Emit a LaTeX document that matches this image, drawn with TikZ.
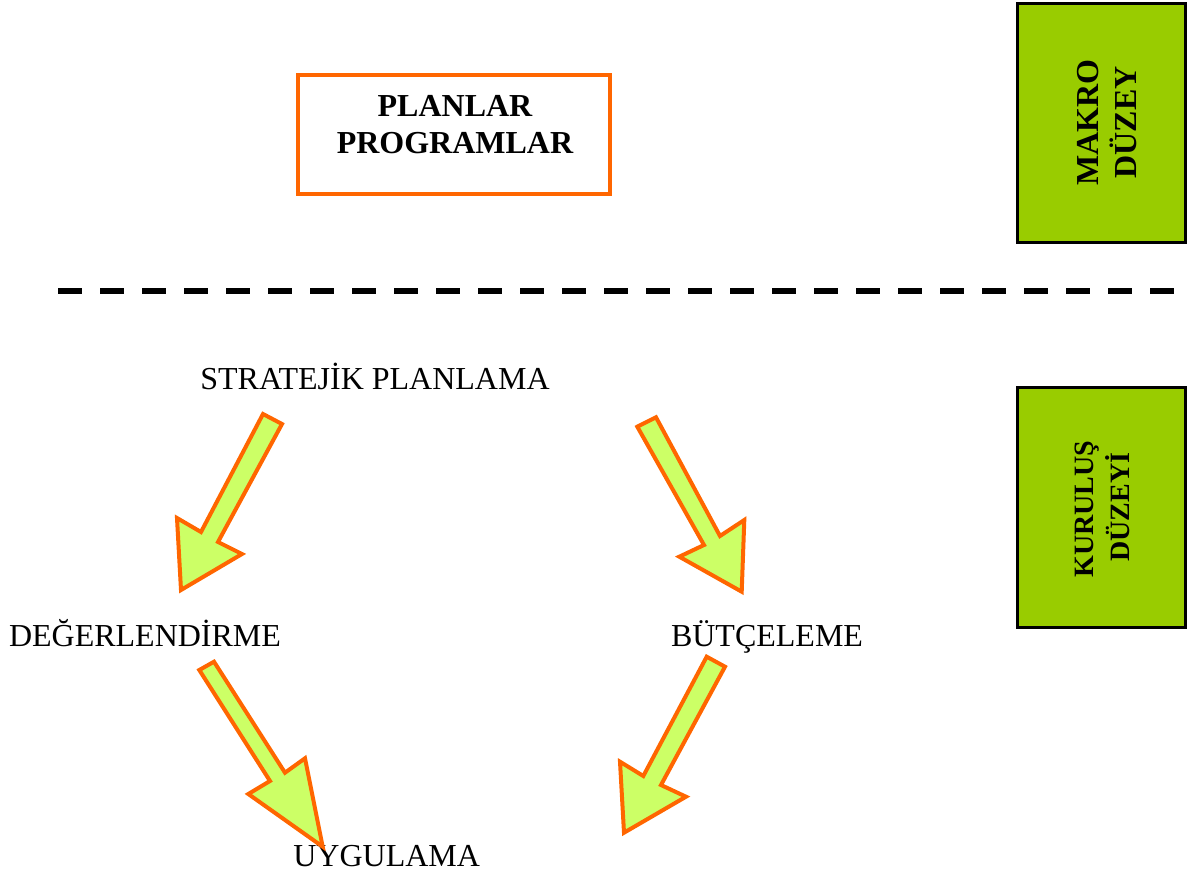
\documentclass[tikz,border=0pt]{standalone}
\usepackage{fontspec}
\setmainfont{Liberation Serif}
\definecolor{borange}{HTML}{FF6600}
\definecolor{afill}{HTML}{CCFF66}
\definecolor{gbox}{HTML}{99CC00}
\begin{document}
\begin{tikzpicture}[x=1pt,y=-1pt,
  lbl/.style={inner sep=0pt,anchor=base,font=\fontsize{32}{37}\selectfont},
  blbl/.style={inner sep=0pt,anchor=base,font=\fontsize{32}{37}\selectfont\bfseries},
  slbl/.style={inner sep=0pt,anchor=base,font=\fontsize{28}{33}\selectfont\bfseries},
  blockarrow/.style={draw=borange,line width=4pt,fill=afill,line join=miter},
  levelbox/.style={draw=black,line width=3pt,fill=gbox},
  planbox/.style={draw=borange,line width=3.5pt}]
\useasboundingbox (0,0) rectangle (1187,876);
% top box
\draw[planbox] (298,75) rectangle (610,194);
\node[blbl] (planlar) at (455,116) {PLANLAR};
\node[blbl] (programlar) at (455,153.3) {PROGRAMLAR};
% level boxes
\draw[levelbox] (1017,3) rectangle (1185,242);
\node[blbl,rotate=90] (makro) at (1098,122.5) {MAKRO};
\node[blbl,rotate=90] (duzey) at (1136,122.5) {DÜZEY};
\draw[levelbox] (1017,387) rectangle (1185,627);
\node[slbl,rotate=90] (kurulus) at (1093,509) {KURULUŞ};
\node[slbl,rotate=90] (duzeyi) at (1129,507) {DÜZEYİ};
% dashed separator
\coordinate (dl) at (58,291);
\coordinate (dr) at (1174,291);
\draw[line width=6pt,dash pattern=on 24pt off 18pt] (dl) -- (dr);
% labels
\node[lbl] (strat) at (375,389) {STRATEJİK PLANLAMA};
\node[lbl] (deger) at (145,646.7) {DEĞERLENDİRME};
\node[lbl] (butce) at (767,646.7) {BÜTÇELEME};
\node[lbl] (uygul) at (386.7,866.7) {UYGULAMA};
% block arrows
\draw[blockarrow] (263,414) -- (282,424) -- (218,542) -- (242,554) -- (181,590) -- (177,518) -- (201,532) -- cycle;
\draw[blockarrow] (656,417.3) -- (637.3,426.7) -- (704,545) -- (679.3,556.7) -- (741.7,591.7) -- (744.3,520) -- (720,536) -- cycle;
\draw[blockarrow] (214,661.7) -- (199.3,670) -- (270,781) -- (248.3,794) -- (322.7,846.7) -- (305,758.3) -- (285,772.7) -- cycle;
\draw[blockarrow] (706.7,656.7) -- (725,666.7) -- (661,785) -- (686,796.7) -- (624,832.7) -- (620,761.7) -- (643.3,776) -- cycle;
\end{tikzpicture}
\end{document}
